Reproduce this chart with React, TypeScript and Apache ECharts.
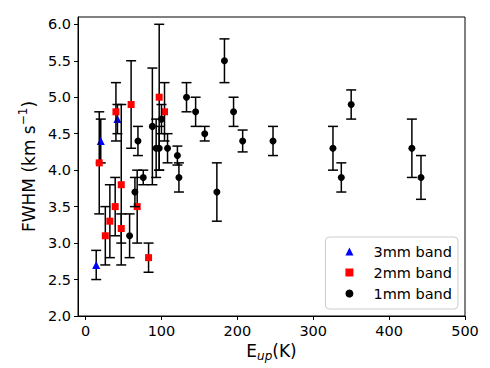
import React, { useEffect, useRef } from 'react';
import * as echarts from 'echarts';

// 3mm band: E_up (K), FWHM (km/s), error
const band3X = [14, 20, 42];
const band3Y = [2.7, 4.4, 4.7];
const band3Err = [0.2, 0.3, 0.2];

// 2mm band
const band2X = [18, 26, 32, 39, 40, 47, 47, 60, 68, 83, 97, 104];
const band2Y = [4.1, 3.1, 3.3, 3.5, 4.8, 3.8, 3.2, 4.9, 3.5, 2.8, 5.0, 4.8];
const band2Err = [0.7, 0.4, 0.5, 0.4, 0.4, 1.1, 0.2, 0.6, 0.5, 0.2, 1.0, 0.4];

// 1mm band
const band1X = [58, 65, 69, 76, 88, 93, 97, 100, 108, 121, 123, 133, 145, 157, 173, 183, 195, 207, 247, 326, 337, 350, 430, 442];
const band1Y = [3.1, 3.7, 4.4, 3.9, 4.6, 4.3, 4.3, 4.7, 4.3, 4.2, 3.9, 5.0, 4.8, 4.5, 3.7, 5.5, 4.8, 4.4, 4.4, 4.3, 3.9, 4.9, 4.3, 3.9];
const band1Err = [0.3, 0.2, 0.2, 0.1, 0.8, 0.4, 0.3, 0.2, 0.2, 0.13, 0.2, 0.2, 0.2, 0.1, 0.4, 0.3, 0.2, 0.15, 0.2, 0.3, 0.2, 0.2, 0.4, 0.3];

const xTicks = [0, 100, 200, 300, 400, 500];
const yTicks = [2.0, 2.5, 3.0, 3.5, 4.0, 4.5, 5.0, 5.5, 6.0];

const FONT = 'DejaVu Sans';

function rows(xs: number[], ys: number[], es: number[]) {
  return xs.map((x, i) => [x, ys[i], es[i]]);
}

function errSeries(name: string, data: number[][], z: number) {
  return {
    type: 'custom',
    name,
    z,
    silent: true,
    data,
    encode: { x: 0, y: 1 },
    renderItem: (params: any, api: any) => {
      const x = api.value(0);
      const y = api.value(1);
      const e = api.value(2);
      const top = api.coord([x, y + e]);
      const bot = api.coord([x, y - e]);
      const cap = 5;
      const style = { stroke: '#000', lineWidth: 1.5 };
      return {
        type: 'group',
        children: [
          { type: 'line', shape: { x1: top[0], y1: top[1], x2: bot[0], y2: bot[1] }, style },
          { type: 'line', shape: { x1: top[0] - cap, y1: top[1], x2: top[0] + cap, y2: top[1] }, style },
          { type: 'line', shape: { x1: bot[0] - cap, y1: bot[1], x2: bot[0] + cap, y2: bot[1] }, style },
        ],
      };
    },
  };
}

export default function App() {
  const ref = useRef<HTMLDivElement>(null);
  useEffect(() => {
    if (!ref.current) return;
    const chart = echarts.init(ref.current, undefined, { renderer: 'svg' });
    const d3 = rows(band3X, band3Y, band3Err);
    const d2 = rows(band2X, band2Y, band2Err);
    const d1 = rows(band1X, band1Y, band1Err);
    chart.setOption({
      animation: false,
      backgroundColor: '#fff',
      grid: {
        left: 78,
        right: 25,
        top: 17,
        bottom: 52,
        show: true,
        borderColor: '#000',
        borderWidth: 1,
        backgroundColor: 'transparent',
      },
      xAxis: {
        type: 'value',
        min: -10,
        max: 500,
        name: 'E{sub|up}(K)',
        nameLocation: 'middle',
        nameGap: 21,
        nameTextStyle: {
          fontFamily: FONT,
          fontSize: 17,
          color: '#000',
          rich: {
            sub: { fontFamily: FONT, fontSize: 12, fontStyle: 'italic', color: '#000', padding: [9, 0, 0, 0] },
          },
        },
        splitLine: { show: false },
        axisLine: { show: true, onZero: false, lineStyle: { color: '#000', width: 1 } },
        axisTick: { show: true, inside: false, length: 4, customValues: xTicks, lineStyle: { color: '#000', width: 1 } },
        axisLabel: {
          customValues: xTicks,
          margin: 7,
          fontFamily: FONT,
          fontSize: 14.5,
          color: '#000',
        },
      },
      yAxis: {
        type: 'value',
        min: 2.0,
        max: 6.1,
        name: 'FWHM (km s{sup|−1})',
        nameLocation: 'middle',
        nameGap: 29,
        nameTextStyle: {
          fontFamily: FONT,
          fontSize: 17,
          color: '#000',
          rich: {
            sup: { fontFamily: FONT, fontSize: 12, color: '#000', padding: [0, 0, 12, 0] },
          },
        },
        splitLine: { show: false },
        axisLine: { show: true, onZero: false, lineStyle: { color: '#000', width: 1 } },
        axisTick: { show: true, inside: false, length: 4, customValues: yTicks, lineStyle: { color: '#000', width: 1 } },
        axisLabel: {
          customValues: yTicks,
          margin: 7,
          fontFamily: FONT,
          fontSize: 14.5,
          color: '#000',
          formatter: (v: number) => v.toFixed(1),
        },
      },
      legend: {
        orient: 'vertical',
        right: 32,
        bottom: 59,
        backgroundColor: 'rgba(255,255,255,0.8)',
        borderColor: '#cccccc',
        borderWidth: 1,
        borderRadius: 4,
        padding: [7, 6, 8, 20],
        itemWidth: 8,
        itemHeight: 8,
        itemGap: 6,
        textStyle: { fontFamily: FONT, fontSize: 14.5, color: '#000', lineHeight: 15, padding: [0, 0, 0, 15] },
        data: [
          { name: '3mm band', icon: 'triangle' },
          { name: '2mm band', icon: 'rect' },
          { name: '1mm band', icon: 'circle' },
        ],
      },
      series: [
        errSeries('e3', d3, 2),
        {
          type: 'scatter',
          name: '3mm band',
          z: 3,
          symbol: 'triangle',
          symbolSize: 8,
          itemStyle: { color: '#0000ff', opacity: 1 },
          data: d3,
          encode: { x: 0, y: 1 },
        },
        errSeries('e2', d2, 4),
        {
          type: 'scatter',
          name: '2mm band',
          z: 5,
          symbol: 'rect',
          symbolSize: 7,
          itemStyle: { color: '#ff0000', opacity: 1 },
          data: d2,
          encode: { x: 0, y: 1 },
        },
        errSeries('e1', d1, 6),
        {
          type: 'scatter',
          name: '1mm band',
          z: 7,
          symbol: 'circle',
          symbolSize: 7,
          itemStyle: { color: '#000000', opacity: 1 },
          data: d1,
          encode: { x: 0, y: 1 },
        },
      ],
    });
    return () => chart.dispose();
  }, []);
  return (
    <div
      ref={ref}
      style={{ position: 'fixed', left: 0, top: 0, width: 490, height: 368, background: '#fff' }}
    />
  );
}
